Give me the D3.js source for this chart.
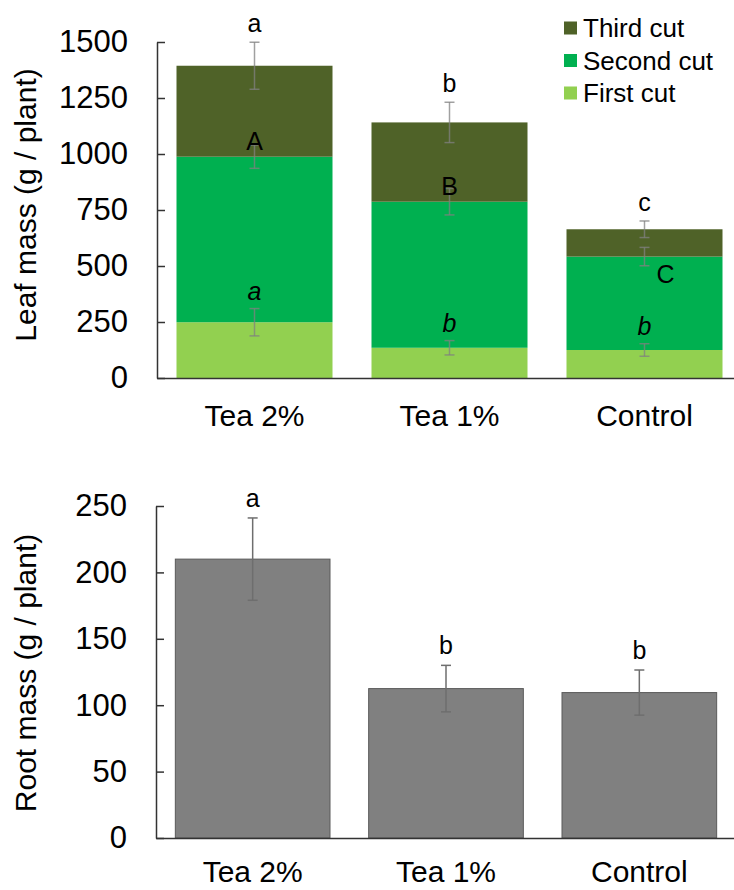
<!DOCTYPE html>
<html>
<head>
<meta charset="utf-8">
<script src="https://cdn.jsdelivr.net/npm/d3@7"></script>
<style>
  body { margin: 0; background: #fff; }
  svg { font-family: "Liberation Sans", Arial, sans-serif; }
</style>
</head>
<body>
<div id="chart-area"></div>
<script>
const categories = ["Tea 2%", "Tea 1%", "Control"];

// leaf mass, stacked by cut (g / plant)
const firstCut = [249, 135, 125];
const secondCut = [739, 652, 417];
const thirdCut = [406, 354, 122];
const firstErr = [61, 32, 28];
const secondErr = [52, 59, 41];
const totalErr = [105, 90, 37];
const firstLetters = ["a", "b", "b"];
const secondLetters = ["A", "B", "C"];
const totalLetters = ["a", "b", "c"];
const leafTicks = [0, 250, 500, 750, 1000, 1250, 1500];

// root mass (g / plant)
const rootMass = [210, 112.5, 109.5];
const rootErr = [31, 17.5, 17];
const rootLetters = ["a", "b", "b"];
const rootTicks = [0, 50, 100, 150, 200, 250];

const cutNames = ["First cut", "Second cut", "Third cut"];
const cutColors = ["#92d050", "#00b050", "#4f6228"];

const w = 734;
const h = 890;

const svg = d3.select("#chart-area")
    .append("svg")
    .attr("width", w)
    .attr("height", h);

const drawErr = (g, cx, yTop, yBot) => {
    g.append("line")
        .attr("x1", cx).attr("x2", cx)
        .attr("y1", yTop).attr("y2", yBot);
    g.append("line")
        .attr("x1", cx - 5).attr("x2", cx + 5)
        .attr("y1", yTop).attr("y2", yTop);
    g.append("line")
        .attr("x1", cx - 5).attr("x2", cx + 5)
        .attr("y1", yBot).attr("y2", yBot);
};

const drawYAxis = (yScale, ticks, x, title, titleY) => {
    const yAxis = d3.axisLeft(yScale)
        .tickValues(ticks)
        .tickFormat(d3.format("d"))
        .tickSizeInner(-8)
        .tickSizeOuter(0)
        .tickPadding(29);
    const g = svg.append("g")
        .attr("transform", "translate(" + x + ",0)")
        .call(yAxis);
    g.select(".domain").attr("stroke", "#333").attr("stroke-width", 1.5);
    g.selectAll(".tick line").attr("stroke", "#333").attr("stroke-width", 1.5);
    g.selectAll(".tick text").attr("fill", "#000").style("font-size", "31px");

    svg.append("text")
        .attr("transform", "translate(36," + titleY + ") rotate(-90)")
        .attr("text-anchor", "middle")
        .style("font-size", "30px")
        .text(title);
};

const drawXAxis = (xScale, y, pad) => {
    const xAxis = d3.axisBottom(xScale).tickSize(0).tickPadding(pad);
    const g = svg.append("g")
        .attr("transform", "translate(0," + y + ")")
        .call(xAxis);
    g.select(".domain").attr("stroke", "#333").attr("stroke-width", 1.5);
    g.selectAll(".tick text").attr("fill", "#000").style("font-size", "30px");
};

// ---------- top chart: leaf mass ----------
const x1 = d3.scaleBand()
    .domain(categories)
    .range([157, 742])
    .paddingInner(0.2)
    .paddingOuter(0.1);

const y1 = d3.scaleLinear()
    .domain([0, 1500])
    .range([378, 42]);

const stackRows = categories.map((c, i) => ({
    cat: c,
    "First cut": firstCut[i],
    "Second cut": secondCut[i],
    "Third cut": thirdCut[i]
}));

const series = d3.stack().keys(cutNames)(stackRows);

svg.append("g")
    .selectAll("g")
    .data(series)
    .enter()
    .append("g")
    .attr("fill", (d, i) => cutColors[i])
    .selectAll("rect")
    .data(d => d)
    .enter()
    .append("rect")
    .attr("x", d => x1(d.data.cat))
    .attr("y", d => y1(d[1]))
    .attr("width", x1.bandwidth())
    .attr("height", d => y1(d[0]) - y1(d[1]));

const err1 = svg.append("g")
    .attr("stroke", "#808080")
    .attr("stroke-width", 1.5)
    .attr("stroke-opacity", 0.75);

categories.forEach((c, i) => {
    const cx = x1(c) + x1.bandwidth() / 2;
    const v1 = firstCut[i];
    const v2 = v1 + secondCut[i];
    const v3 = v2 + thirdCut[i];
    drawErr(err1, cx, y1(v1 + firstErr[i]), y1(v1 - firstErr[i]));
    drawErr(err1, cx, y1(v2 + secondErr[i]), y1(v2 - secondErr[i]));
    drawErr(err1, cx, y1(v3 + totalErr[i]), y1(v3 - totalErr[i]));
});

const letters1 = svg.append("g")
    .attr("text-anchor", "middle")
    .style("font-size", "25px");

categories.forEach((c, i) => {
    const cx = x1(c) + x1.bandwidth() / 2;
    const v1 = firstCut[i];
    const v2 = v1 + secondCut[i];
    const v3 = v2 + thirdCut[i];
    letters1.append("text")
        .attr("x", cx)
        .attr("y", y1(v3 + totalErr[i]) - 10)
        .text(totalLetters[i]);
    letters1.append("text")
        .attr("x", cx)
        .attr("y", y1(v1 + firstErr[i]) - 9)
        .style("font-style", "italic")
        .text(firstLetters[i]);
    // the last capital sits below the boundary, to the right of its error bar
    const last = i === categories.length - 1;
    letters1.append("text")
        .attr("x", last ? cx + 21 : cx)
        .attr("y", last ? y1(v2) + 26 : y1(v2) - 7)
        .text(secondLetters[i]);
});

drawYAxis(y1, leafTicks, 157, "Leaf mass (g / plant)", 205);
drawXAxis(x1, 378, 27);

// legend
const legend = svg.append("g")
    .attr("transform", "translate(564, 28)");

const legendOrder = [2, 1, 0];
legendOrder.forEach((k, j) => {
    legend.append("rect")
        .attr("x", 0)
        .attr("y", j * 32.5 - 6.5)
        .attr("width", 13)
        .attr("height", 13)
        .attr("fill", cutColors[k]);
    legend.append("text")
        .attr("x", 19)
        .attr("y", j * 32.5 + 9)
        .style("font-size", "26px")
        .text(cutNames[k]);
});

// ---------- bottom chart: root mass ----------
const x2 = d3.scaleBand()
    .domain(categories)
    .range([156, 736])
    .paddingInner(0.2)
    .paddingOuter(0.1);

const y2 = d3.scaleLinear()
    .domain([0, 250])
    .range([838, 506]);

svg.append("g")
    .selectAll("rect")
    .data(rootMass)
    .enter()
    .append("rect")
    .attr("x", (d, i) => x2(categories[i]))
    .attr("y", d => y2(d))
    .attr("width", x2.bandwidth())
    .attr("height", d => y2(0) - y2(d))
    .attr("fill", "#808080")
    .attr("stroke", "#5a5a5a")
    .attr("stroke-width", 1);

const err2 = svg.append("g")
    .attr("stroke", "#6e6e6e")
    .attr("stroke-width", 1.5);

rootMass.forEach((d, i) => {
    const cx = x2(categories[i]) + x2.bandwidth() / 2;
    drawErr(err2, cx, y2(d + rootErr[i]), y2(d - rootErr[i]));
});

svg.append("g")
    .attr("text-anchor", "middle")
    .style("font-size", "25px")
    .selectAll("text")
    .data(rootMass)
    .enter()
    .append("text")
    .attr("x", (d, i) => x2(categories[i]) + x2.bandwidth() / 2)
    .attr("y", (d, i) => y2(d + rootErr[i]) - 11)
    .text((d, i) => rootLetters[i]);

drawYAxis(y2, rootTicks, 156, "Root mass (g / plant)", 673);
drawXAxis(x2, 838, 23);
</script>
</body>
</html>
